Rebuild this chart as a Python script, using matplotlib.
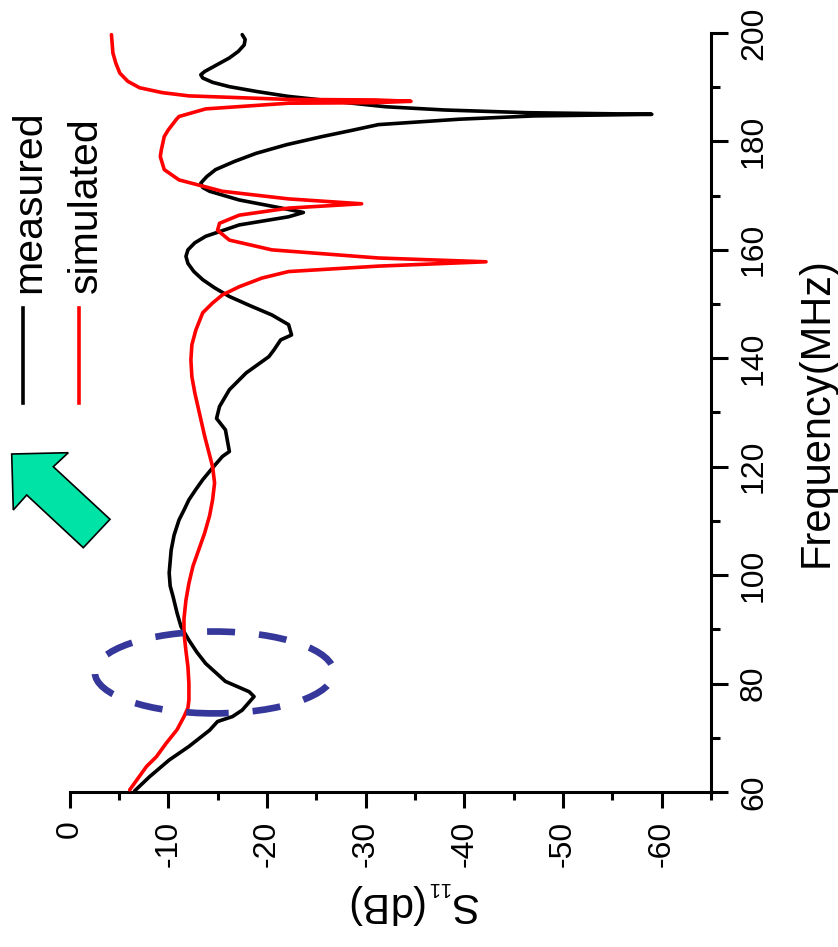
import matplotlib
matplotlib.use('Agg')
import matplotlib.pyplot as plt
from matplotlib.patches import Ellipse, Polygon
from matplotlib.lines import Line2D

plt.rcParams['font.family'] = ['Liberation Sans', 'DejaVu Sans']
plt.rcParams['mathtext.fontset'] = 'custom'
plt.rcParams['mathtext.rm'] = 'Liberation Sans'
plt.rcParams['mathtext.it'] = 'Liberation Sans:italic'

# ---------------- data ----------------
series_names = ['measured', 'simulated']

meas_freq = [60.2, 62.8, 65.9, 68.4, 71.4, 73.0, 73.9, 75.1, 77.6, 78.5, 80.4, 83.7,
             85.8, 88.0, 90.5, 93.0, 96.0, 98.0, 100.4, 104.6, 107.4, 110.2, 112.0,
             113.9, 115.8, 117.6, 119.8, 121.9, 122.8,
             126.8, 128.9, 131.1, 134.2, 137.3, 140.3, 141.5, 143.4, 144.3, 146.2,
             148.0, 149.7, 151.4, 153.0, 154.5, 156.0, 157.5, 158.8, 160.0, 161.3,
             162.5, 164.6, 166.1, 166.9, 167.7,
             169.2, 170.8, 171.5, 172.3, 173.5, 174.8, 176.3, 177.8, 179.4, 180.9,
             182.0, 183.1, 184.1, 184.7, 185.0,
             185.3, 185.8, 186.4, 188.3, 189.2, 190.1, 190.9, 191.7, 192.3, 192.9,
             194.2, 195.4, 196.6, 197.8, 198.8, 199.7]
meas_s11 = [-6.6, -8.1, -10.1, -12.1, -14.2, -15.0, -16.5, -17.5, -18.7, -18.2, -15.8, -13.8,
            -12.9, -12.1, -11.3, -10.9, -10.5, -10.2, -10.1, -10.3, -10.6, -11.1, -11.6,
            -12.1, -12.8, -13.5, -14.5, -15.5, -16.2,
            -15.8, -14.9, -15.2, -16.2, -17.9, -20.2, -20.7, -21.4, -22.5, -22.2,
            -20.5, -18.3, -16.2, -14.7, -13.5, -12.6, -12.0, -11.8, -12.0, -12.7,
            -13.8, -17.2, -22.2, -23.7, -21.5,
            -17.2, -14.2, -13.5, -13.3, -13.9, -14.8, -16.7, -18.9, -22.0, -25.6,
            -28.5, -31.3, -39.5, -47.0, -59.0,
            -46.4, -38.0, -32.0, -22.2, -19.0, -16.2, -14.5, -13.5, -13.3, -13.7,
            -15.0, -16.2, -17.1, -17.7, -17.8, -17.5]

sim_freq = [60.4, 64.7, 66.5, 69.0, 71.5, 73.9, 75.5, 77.0, 80.0, 83.1, 86.0, 89.3, 92.0,
            95.4, 98.5, 101.6, 104.7, 107.8, 111.0, 113.9, 117.0,
            120.0, 122.8, 125.6, 129.6, 133.6, 136.6, 139.7, 142.5, 145.2, 148.4,
            150.2, 151.7, 153.2, 154.8, 156.0, 157.0, 157.8,
            158.5, 160.0, 161.8, 163.6, 164.9, 166.4, 167.7, 168.5, 169.4, 170.8,
            172.9, 174.8, 177.2, 178.4, 180.9, 182.1, 184.0, 184.6, 186.0, 187.05,
            187.15, 187.4, 187.65, 187.75, 188.4, 189.0,
            189.9, 191.1, 192.6, 194.4, 196.3, 199.7]
sim_s11 = [-6.1, -7.8, -8.8, -9.8, -10.9, -11.6, -12.0, -12.1, -12.1, -12.0, -11.8, -11.6,
           -11.6, -11.8, -12.1, -12.5, -13.1, -13.7, -14.2, -14.5, -14.7,
           -14.5, -14.1, -13.7, -13.2, -12.7, -12.4, -12.3, -12.4, -12.8, -13.5,
           -14.5, -15.5, -17.2, -19.5, -22.2, -31.3, -42.2,
           -31.3, -20.5, -16.2, -15.0, -15.2, -17.2, -22.2, -29.6, -22.2, -15.5,
           -11.1, -9.6, -9.2, -9.3, -9.6, -10.0, -10.8, -11.1, -13.8, -22.2,
           -31.0, -34.6, -31.0, -22.2, -12.1, -9.4,
           -7.1, -5.9, -5.1, -4.7, -4.4, -4.25]

s11_ticks = [0, -10, -20, -30, -40, -50, -60]
s11_tick_labels = ['0', '-10', '-20', '-30', '-40', '-50', '-60']
s11_minor = [-5, -15, -25, -35, -45, -55, -65]
freq_ticks = [60, 80, 100, 120, 140, 160, 180, 200]
freq_tick_labels = ['60', '80', '100', '120', '140', '160', '180', '200']
freq_minor = [70, 90, 110, 130, 150, 170, 190]

# ---------------- figure ----------------
W, H = 838, 947
fig = plt.figure(figsize=(W / 100, H / 100), dpi=100)


def fx(px):
    return px / W


def fy(py):
    return 1 - py / H


ax = fig.add_axes([fx(69.5), fy(792), (711 - 69.5) / W, (792 - 33) / H])

lw = 2.6
ax.plot(meas_s11, meas_freq, color='black', lw=lw, solid_joinstyle='round',
        solid_capstyle='round', zorder=3, clip_on=False)
ax.plot(sim_s11, sim_freq, color='red', lw=lw, solid_joinstyle='round',
        solid_capstyle='round', zorder=3, clip_on=False)

ax.set_xlim(0, -65)
ax.set_ylim(60, 200)

for s in ['top', 'left']:
    ax.spines[s].set_visible(False)
for s in ['bottom', 'right']:
    ax.spines[s].set_linewidth(2.2)

ax.yaxis.tick_right()
ax.set_xticks(s11_ticks)
ax.set_xticks(s11_minor, minor=True)
ax.set_xticklabels(s11_tick_labels, rotation=90)
ax.set_yticks(freq_ticks)
ax.set_yticks(freq_minor, minor=True)
ax.set_yticklabels(freq_tick_labels, rotation=90, va='center')

ax.tick_params(axis='x', which='major', direction='out', length=11.5, width=2.2,
               labelsize=23, pad=9)
ax.tick_params(axis='x', which='minor', direction='out', length=5.8, width=2.2)
ax.tick_params(axis='y', which='major', direction='out', length=12.2, width=2.2,
               labelsize=23, pad=8, right=True, left=False)
ax.tick_params(axis='y', which='minor', direction='out', length=6.5, width=2.2,
               right=True, left=False)

# axis labels
ax.set_xlabel('S$_{{}_{11}}$(dB)', fontsize=30)
xl = ax.xaxis.label
xl.set_rotation(180)
xl.set_rotation_mode('anchor')
xl.set_ha('center')
xl.set_va('baseline')
ax.xaxis.set_label_coords((415 - 69.5) / (711 - 69.5), (792 - 893) / (792 - 33))

ax.yaxis.set_label_position('right')
ax.set_ylabel('Frequency(MHz)', fontsize=30)
yl = ax.yaxis.label
yl.set_rotation(90)
yl.set_rotation_mode('anchor')
yl.set_ha('center')
yl.set_va('baseline')
ax.yaxis.set_label_coords((828 - 69.5) / (711 - 69.5), 0.5)

# dashed ellipse highlight
ell = Ellipse((-14.67, 82.05), 24.2, 15.1, fill=False, ec='#35379A', lw=4.8,
              ls=(0, (4.2, 3.6)), zorder=5, clip_on=False)
ax.add_patch(ell)

# legend (rotated, drawn manually)
leg_colors = ['black', 'red']
leg_x_line = [22.7, 79.0]
leg_x_text = [40.0, 97.0]
for name, c, xline, xtext in zip(series_names, leg_colors, leg_x_line, leg_x_text):
    fig.add_artist(Line2D([fx(xline), fx(xline)], [fy(308), fy(403)],
                          transform=fig.transFigure, color=c, lw=lw))
    fig.text(fx(xtext), fy(293), name, rotation=90, rotation_mode='anchor',
             ha='left', va='baseline', fontsize=29.5, color='black')

# green block arrow
arrow_px = [(11.7, 454), (68.3, 452.7), (53.3, 466.7), (110, 519.3),
            (83.3, 547.7), (26.7, 495), (13.3, 510)]
arrow = Polygon([(fx(x), fy(y)) for x, y in arrow_px], closed=True,
                transform=fig.transFigure, fc='#00E3A6', ec='black', lw=1.2)
fig.add_artist(arrow)

fig.savefig('out.png', dpi=100)
